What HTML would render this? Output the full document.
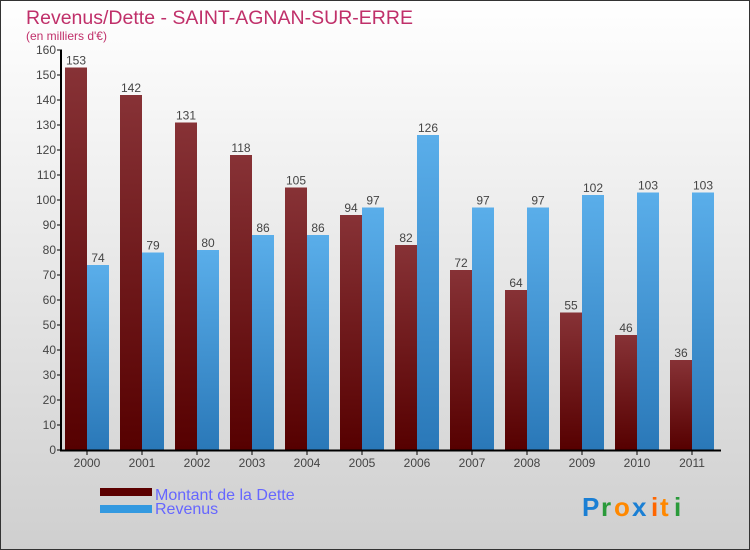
<!DOCTYPE html>
<html><head><meta charset="utf-8"><style>
body{margin:0;width:750px;height:550px;overflow:hidden}
svg{display:block;font-family:"Liberation Sans",sans-serif}
</style></head><body>
<svg id="c" width="750" height="550">
<defs>
<linearGradient id="bg" x1="0" y1="0" x2="0" y2="1"><stop offset="0" stop-color="#ffffff"/><stop offset="1" stop-color="#cfcfcf"/></linearGradient>
<linearGradient id="gd" x1="0" y1="0" x2="0" y2="1"><stop offset="0" stop-color="#873236"/><stop offset="1" stop-color="#560000"/></linearGradient>
<linearGradient id="gr" x1="0" y1="0" x2="0" y2="1"><stop offset="0" stop-color="#5aaeea"/><stop offset="1" stop-color="#2a78b8"/></linearGradient>
</defs>
<rect x="0.5" y="0.5" width="749" height="549" fill="url(#bg)" stroke="#333"/>
<text x="26" y="24" font-size="19.5" fill="#c0306a" textLength="387">Revenus/Dette - SAINT-AGNAN-SUR-ERRE</text>
<text x="26" y="40" font-size="12" fill="#c0306a">(en milliers d'€)</text>
<g id="plot"></g>
<rect x="100" y="488" width="52" height="8" fill="#5c0000"/>
<text x="155" y="500" font-size="16" fill="#6666ff">Montant de la Dette</text>
<rect x="100" y="505" width="52" height="8" fill="#3399e0"/>
<text x="155" y="514" font-size="16" fill="#6666ff">Revenus</text>
<g font-size="26" font-weight="bold">
<text x="582" y="516" fill="#1a7fd4">P</text><text x="601" y="516" fill="#2a9a3a">r</text><text x="614" y="516" fill="#ff8800">o</text><text x="632" y="516" fill="#1a7fd4">x</text><text x="651" y="516" fill="#ff6600">i</text><text x="660" y="516" fill="#ff8800">t</text><text x="674" y="516" fill="#2a9a3a">i</text>
</g>
</svg>
<script>
const years=["2000","2001","2002","2003","2004","2005","2006","2007","2008","2009","2010","2011"];
const debt=[153,142,131,118,105,94,82,72,64,55,46,36];
const revenue=[74,79,80,86,86,97,126,97,97,102,103,103];
const yTicks=[0,10,20,30,40,50,60,70,80,90,100,110,120,130,140,150,160];
const NS="http://www.w3.org/2000/svg";
const g=document.getElementById('plot');
const y=v=>450-v*2.5;
const xc=i=>87+i*55;
function mk(t,a,txt){const e=document.createElementNS(NS,t);for(const k in a)e.setAttribute(k,a[k]);if(txt!==undefined)e.textContent=txt;g.appendChild(e);return e;}
years.forEach((yr,i)=>{
 let b=mk('rect',{x:xc(i)-22,y:y(debt[i]),width:22,height:450-y(debt[i]),fill:'url(#gd)'});
 
 
 let r=mk('rect',{x:xc(i),y:y(revenue[i]),width:22,height:450-y(revenue[i]),fill:'url(#gr)'});
 
 
 let t1=mk('text',{x:xc(i)-11,y:y(debt[i])-3,'font-size':12,fill:'#444','text-anchor':'middle'},debt[i]);
 
 
 let t2=mk('text',{x:xc(i)+11,y:y(revenue[i])-3,'font-size':12,fill:'#444','text-anchor':'middle'},revenue[i]);
 
 
 mk('line',{x1:xc(i),x2:xc(i),y1:450,y2:455,stroke:'#000'});
 let xl=mk('text',{x:xc(i),y:467,'font-size':12,fill:'#444','text-anchor':'middle'},yr);
 
 
});
yTicks.forEach(v=>{
 mk('line',{x1:57,x2:62,y1:y(v),y2:y(v),stroke:'#000'});
 let t=mk('text',{x:56,y:y(v)+4,'font-size':12,fill:'#444','text-anchor':'end'},v);
 
 
});
let ya=mk('line',{x1:61,x2:61,y1:50,y2:451,stroke:'#000','stroke-width':2});


let xa=mk('line',{x1:60,x2:721,y1:450.5,y2:450.5,stroke:'#000','stroke-width':2});


</script>
</body></html>
